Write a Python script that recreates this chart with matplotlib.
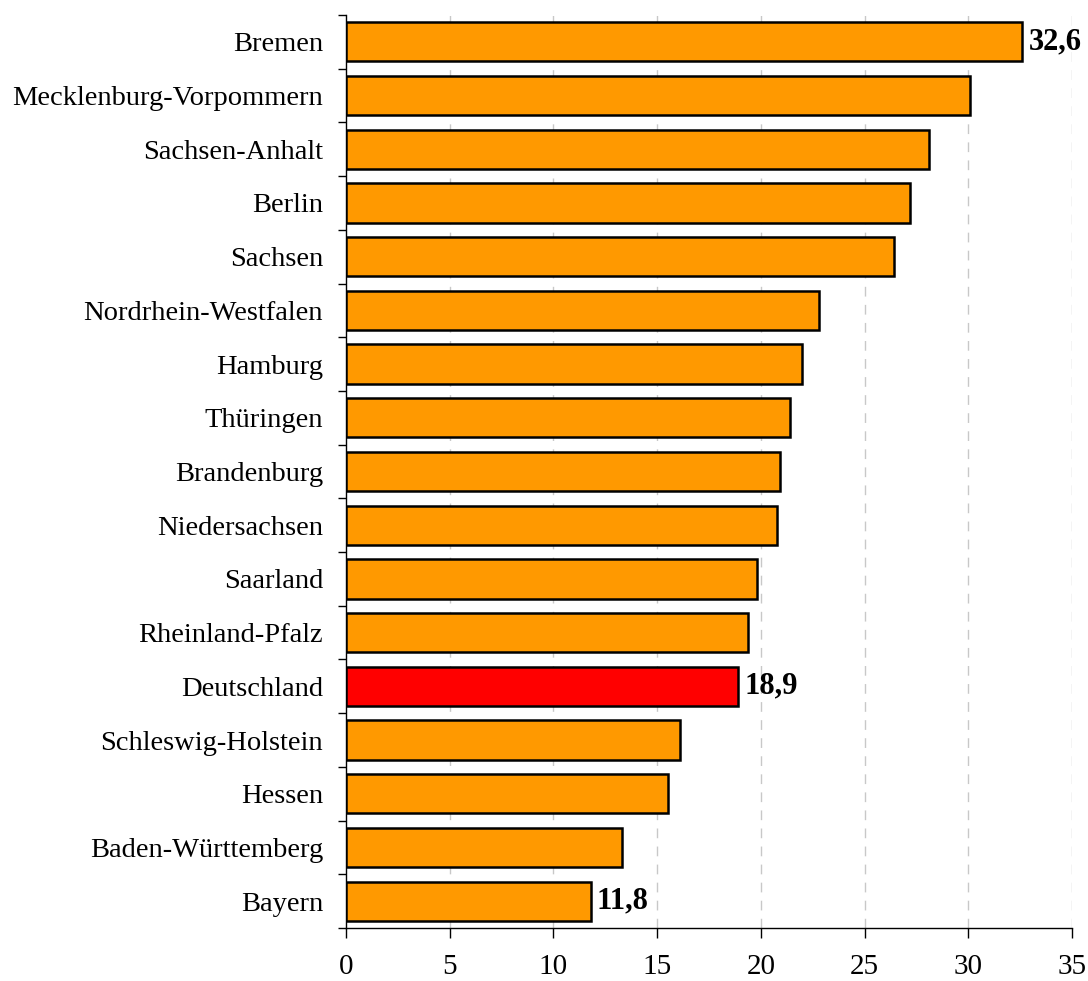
import matplotlib
matplotlib.use("Agg")
import matplotlib.pyplot as plt
import numpy as np

categories = ["Bremen", "Mecklenburg-Vorpommern", "Sachsen-Anhalt", "Berlin", "Sachsen",
              "Nordrhein-Westfalen", "Hamburg", "Thüringen", "Brandenburg", "Niedersachsen",
              "Saarland", "Rheinland-Pfalz", "Deutschland", "Schleswig-Holstein", "Hessen",
              "Baden-Württemberg", "Bayern"]
values = [32.6, 30.1, 28.1, 27.2, 26.4, 22.8, 22.0, 21.4, 20.9, 20.8,
          19.8, 19.4, 18.9, 16.1, 15.5, 13.3, 11.8]
highlight = "Deutschland"
labelled = ["Bremen", "Deutschland", "Bayern"]
xticks = [0, 5, 10, 15, 20, 25, 30, 35]

plt.rcParams['font.family'] = ['Liberation Serif', 'DejaVu Serif']

fig = plt.figure(figsize=(10.88, 9.81), dpi=100)
ax = fig.add_axes([346/1088, 1-928/981, (1072-346)/1088, (928-15)/981])

n = len(categories)
y = np.arange(n)
colors = ["#FF0000" if c == highlight else "#FF9900" for c in categories]
ax.barh(y, values, height=0.73, color=colors, edgecolor="black", linewidth=1.8, zorder=3)

for yi, c, v in zip(y, categories, values):
    if c in labelled:
        ax.text(v + 0.3, yi, f"{v:.1f}".replace(".", ","), va="center", ha="left",
                fontsize=22, fontweight="bold", zorder=4)

ax.set_ylim(n - 0.5, -0.5)
ax.set_xlim(0, 35)

ax.set_yticks(y)
ax.set_yticklabels(categories, fontsize=20.5)
ax.tick_params(axis='y', which='major', length=0, pad=16.5)
ax.set_yticks(np.arange(-0.5, n, 1), minor=True)
ax.tick_params(axis='y', which='minor', length=6, width=1, direction='out')

ax.set_xticks(xticks)
ax.set_xticklabels([str(t) for t in xticks], fontsize=21)
ax.tick_params(axis='x', length=7, width=1, direction='out', pad=12)

for t in xticks[1:]:
    ax.axvline(t, color="#C8C8C8", linestyle=(0, (7, 6)), linewidth=1, zorder=1)

for s in ["top", "right"]:
    ax.spines[s].set_visible(False)
ax.spines["left"].set_linewidth(1)
ax.spines["bottom"].set_linewidth(1)

fig.savefig("out.png", dpi=100)
